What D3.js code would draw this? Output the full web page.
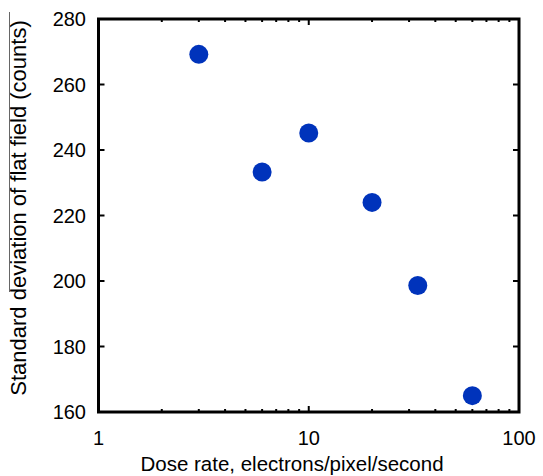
<!DOCTYPE html>
<html>
<head>
<meta charset="utf-8">
<script src="https://cdn.jsdelivr.net/npm/d3@7"></script>
<style>
  body { margin: 0; background: #fff; }
  text { font-family: "Liberation Sans", Arial, sans-serif; fill: #000; }
</style>
</head>
<body>
<svg id="chart" width="543" height="476"></svg>
<script>
// data
var doseRate = [3, 6, 10, 20, 33, 60];
var stdDev = [269.2, 233.3, 245.2, 224.0, 198.6, 165.0];
var yTicks = [160, 180, 200, 220, 240, 260, 280];
var xTicks = [1, 10, 100];

var svg = d3.select('#chart');
var pLeft = 98.5, pRight = 519, pTop = 19, pBottom = 412;

var x = d3.scaleLog().domain([1, 100]).range([pLeft, pRight]);
var y = d3.scaleLinear().domain([160, 280]).range([pBottom, pTop]);

// minor ticks on the log axis
var minor = [];
[1, 10].forEach(function(d){
  for (var k = 2; k <= 9; k++) minor.push(d * k);
});

var g = svg.append('g');

function vTicks(data, y0, len){
  g.selectAll(null).data(data).enter().append('line')
    .attr('x1', function(d){ return x(d); }).attr('x2', function(d){ return x(d); })
    .attr('y1', y0).attr('y2', y0 + len)
    .attr('stroke', '#000').attr('stroke-width', 2);
}
function hTicks(x0, len){
  g.selectAll(null).data(yTicks).enter().append('line')
    .attr('x1', x0).attr('x2', x0 + len)
    .attr('y1', function(d){ return y(d); }).attr('y2', function(d){ return y(d); })
    .attr('stroke', '#000').attr('stroke-width', 2);
}

// inward ticks on all four sides
vTicks(minor, pBottom, -3);
vTicks(minor, pTop, 3);
vTicks(xTicks, pBottom, -6);
vTicks(xTicks, pTop, 6);
hTicks(pLeft, 6);
hTicks(pRight, -6);

// frame
g.append('rect')
  .attr('x', pLeft).attr('y', pTop)
  .attr('width', pRight - pLeft).attr('height', pBottom - pTop)
  .attr('fill', 'none').attr('stroke', '#000').attr('stroke-width', 3);

// tick labels
g.selectAll('text.ylab').data(yTicks).enter().append('text')
  .attr('class', 'ylab')
  .attr('x', 86).attr('y', function(d){ return y(d); })
  .attr('dy', '0.35em')
  .attr('text-anchor', 'end')
  .style('font-size', '20px')
  .text(function(d){ return d; });
g.selectAll('text.xlab').data(xTicks).enter().append('text')
  .attr('class', 'xlab')
  .attr('x', function(d){ return x(d); }).attr('y', 445)
  .attr('text-anchor', 'middle')
  .style('font-size', '20px')
  .text(function(d){ return d; });

// axis titles
svg.append('text')
  .attr('x', 292).attr('y', 471)
  .attr('text-anchor', 'middle')
  .style('font-size', '20.5px')
  .text('Dose rate, electrons/pixel/second');

svg.append('text')
  .attr('transform', 'translate(26,208) rotate(-90)')
  .attr('text-anchor', 'middle')
  .style('font-size', '22px')
  .text('Standard deviation of flat field (counts)');

// stray overline seen in the original
svg.append('line')
  .attr('x1', 9.5).attr('x2', 9.5).attr('y1', 12).attr('y2', 292)
  .attr('stroke', '#666').attr('stroke-width', 1);

// points
svg.selectAll('circle.dot').data(doseRate).enter().append('circle')
  .attr('class', 'dot')
  .attr('cx', function(d){ return x(d); })
  .attr('cy', function(d, i){ return y(stdDev[i]); })
  .attr('r', 9.5)
  .attr('fill', '#0033bb');
</script>
</body>
</html>
